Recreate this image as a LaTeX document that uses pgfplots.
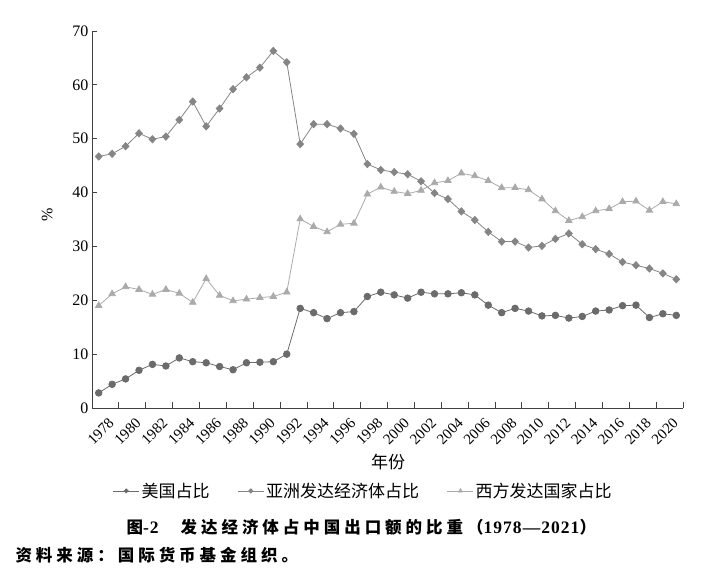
\documentclass[border=0pt]{standalone}
\usepackage{fontspec}
\setmainfont{Liberation Serif}
\newfontfamily\cjk{Noto Sans CJK SC}
\newfontfamily\cjkcap[LetterSpace=24]{Noto Sans CJK SC}
\newfontfamily\capnum[LetterSpace=6]{Liberation Serif}
\usepackage{pgfplots}
\pgfplotsset{compat=1.18}
\definecolor{usc}{HTML}{6B6B6B}
\definecolor{asc}{HTML}{858585}
\definecolor{wc}{HTML}{AAAAAA}
\pgfplotstableread{
year us asia west
1978 2.8 46.7 19.0
1979 4.4 47.2 21.2
1980 5.4 48.6 22.5
1981 7.0 51.0 22.0
1982 8.1 49.9 21.1
1983 7.8 50.4 22.0
1984 9.3 53.5 21.3
1985 8.6 56.9 19.6
1986 8.4 52.3 24.0
1987 7.7 55.6 20.9
1988 7.1 59.2 19.9
1989 8.4 61.4 20.2
1990 8.5 63.2 20.5
1991 8.6 66.3 20.7
1992 10.0 64.2 21.5
1993 18.5 49.0 35.1
1994 17.7 52.7 33.7
1995 16.6 52.7 32.7
1996 17.7 51.9 34.1
1997 17.9 50.9 34.3
1998 20.7 45.3 39.7
1999 21.5 44.2 41.0
2000 21.0 43.8 40.2
2001 20.4 43.4 39.8
2002 21.5 42.1 40.4
2003 21.2 39.9 41.8
2004 21.2 38.8 42.2
2005 21.4 36.5 43.6
2006 21.0 34.9 43.1
2007 19.1 32.7 42.2
2008 17.7 30.9 40.9
2009 18.5 30.9 40.9
2010 18.0 29.8 40.5
2011 17.1 30.1 38.8
2012 17.2 31.4 36.6
2013 16.7 32.4 34.8
2014 17.0 30.4 35.5
2015 18.0 29.5 36.6
2016 18.2 28.6 37.0
2017 19.0 27.1 38.3
2018 19.1 26.5 38.4
2019 16.8 25.9 36.7
2020 17.5 25.0 38.3
2021 17.2 23.9 37.9
}\datatable
\begin{document}
\begin{tikzpicture}
\useasboundingbox (-92pt,-172pt) rectangle (635pt,408pt);
\begin{axis}[
  at={(0pt,0pt)}, anchor=south west,
  width=591pt, height=377pt, scale only axis,
  xmin=1977.5, xmax=2021.5, ymin=0, ymax=70,
  axis lines=left,
  axis line style={-, line width=0.8pt, color=black!75},
  tick style={line width=0.8pt, color=black!75},
  tick align=inside,
  xtick={1978,1980,...,2020},
  major x tick style={draw=none},
  minor xtick={1979.5,1981.5,...,2021.5},
  minor tick length=6pt,
  major tick length=5pt,
  ytick={0,10,...,70},
  /pgf/number format/assume math mode=true,
  /pgf/number format/set thousands separator={},
  yticklabel style={font=\fontsize{16}{16}\selectfont},
  xticklabel style={font=\fontsize{15}{15}\selectfont, xshift=9pt, yshift=-9pt, rotate=45, anchor=north east, inner sep=0pt},
  ylabel={\%},
  every axis y label/.style={at={(axis description cs:-0.076,0.512)}, rotate=90, anchor=center, font=\fontsize{16}{16}\selectfont},
  xlabel={\cjk 年份},
  every axis x label/.style={at={(axis description cs:0.501,-0.143)}, anchor=center, font=\fontsize{17}{17}\selectfont},
  legend columns=3,
  legend style={at={(axis description cs:0.03,-0.22)}, anchor=west, draw=none, fill=none,
    font=\cjk\fontsize{17}{17}\selectfont,
    /tikz/every even column/.style={column sep=26pt}},
  legend image code/.code={
    \draw[#1, mark=none, line width=0.6pt] (0pt,0pt) -- (26pt,0pt);
    \draw[#1, only marks, every mark/.append style={scale=0.6}] plot coordinates {(13pt,0pt)};
  },
]
\addplot[color=usc, line width=0.8pt, mark=*, mark size=3.3pt, mark options={fill=usc}] table[x=year, y=us] {\datatable};
\addlegendentry{美国占比}
\addplot[color=asc, line width=0.8pt, mark=diamond*, mark size=3.6pt, mark options={fill=asc, xscale=1.25}] table[x=year, y=asia] {\datatable};
\addlegendentry{亚洲发达经济体占比}
\addplot[color=wc, line width=0.8pt, mark=triangle*, mark size=3.7pt, mark options={fill=wc}] table[x=year, y=west] {\datatable};
\addlegendentry{西方发达国家占比}
\end{axis}
\node[anchor=west, font=\fontsize{16.5}{16.5}\selectfont] at (31pt,-119pt)
  {{\cjkcap\bfseries 图}{\capnum\bfseries\fontsize{17.5}{17.5}\selectfont -2}\hspace{22pt}{\cjkcap\bfseries 发达经济体占中国出口额的比重（}{\capnum\bfseries\fontsize{17.5}{17.5}\selectfont 1978—2021}{\cjkcap\bfseries ）}};
\node[anchor=west, font=\fontsize{16.5}{16.5}\selectfont] at (-80pt,-147pt)
  {\cjkcap\bfseries 资料来源：国际货币基金组织。};
\end{tikzpicture}
\end{document}
